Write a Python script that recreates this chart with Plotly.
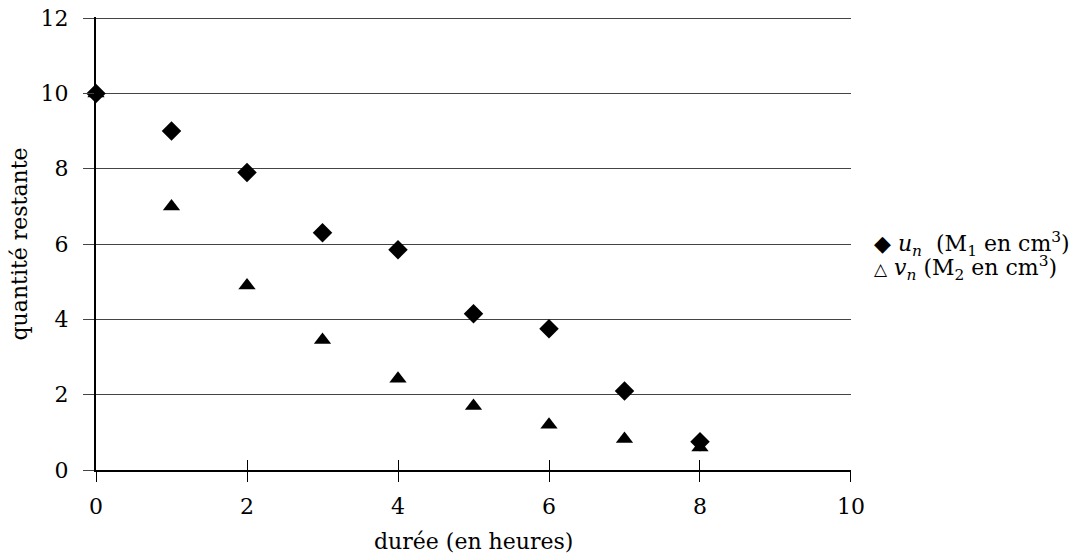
import plotly.graph_objects as go

heures = [0, 1, 2, 3, 4, 5, 6, 7, 8]
u_n = [10.0, 9.0, 7.9, 6.3, 5.85, 4.15, 3.75, 2.1, 0.75]
v_n = [10.0, 7.0, 4.9, 3.45, 2.42, 1.7, 1.2, 0.82, 0.6]
x_ticks = [0, 2, 4, 6, 8, 10]
y_ticks = [0, 2, 4, 6, 8, 10, 12]

FONT = "DejaVu Serif"
FS = 22

fig = go.Figure()
fig.add_trace(go.Scatter(x=heures, y=v_n, mode="markers", name="v_n",
                         marker=dict(symbol="triangle-up", size=15, color="black"),
                         cliponaxis=False))
fig.add_trace(go.Scatter(x=heures, y=u_n, mode="markers", name="u_n",
                         marker=dict(symbol="diamond", size=15, color="black"),
                         cliponaxis=False))
# invisible trace to show xaxis2 ticks
fig.add_trace(go.Scatter(x=[0], y=[0], xaxis="x2", mode="markers",
                         marker=dict(opacity=0), hoverinfo="skip"))

fig.update_layout(
    width=1070, height=546,
    margin=dict(l=88, r=227, t=9, b=84, autoexpand=False),
    paper_bgcolor="white", plot_bgcolor="white",
    showlegend=False,
    font=dict(family=FONT, size=FS, color="black"),
    xaxis=dict(range=[0, 10.0001], tickvals=x_ticks, showgrid=False, zeroline=False,
               showline=True, linecolor="black", linewidth=2,
               ticks="outside", ticklen=10, tickcolor="black", tickwidth=1,
               tickfont=dict(family=FONT, size=FS), ticklabelstandoff=6,
               ticklabeloverflow="allow"),
    xaxis2=dict(range=[0, 10.0001], tickvals=x_ticks, overlaying="x", side="bottom",
                showgrid=False, zeroline=False, showline=False,
                ticks="inside", ticklen=10, tickcolor="black", tickwidth=1,
                showticklabels=False, matches="x"),
    yaxis=dict(range=[0, 12.03], tickvals=y_ticks, showgrid=True, gridcolor="#444",
               gridwidth=1, zeroline=False, showline=True, linecolor="black",
               linewidth=2, ticks="outside", ticklen=11, tickcolor="#444",
               tickfont=dict(family=FONT, size=FS), ticklabelstandoff=10,
               ticklabeloverflow="allow"),
)

fig.add_annotation(xref="paper", yref="paper", x=-0.1007, y=0.5,
                   xanchor="center", yanchor="middle", showarrow=False,
                   textangle=-90, text="quantité restante",
                   font=dict(family=FONT, size=FS))
fig.add_annotation(xref="paper", yref="paper", x=0.5, y=-0.1615, yshift=2,
                   xanchor="center", yanchor="middle", showarrow=False,
                   text="durée (en heures)",
                   font=dict(family=FONT, size=FS))
fig.add_annotation(xref="paper", yref="paper", x=1.0278, y=0.4978,
                   xanchor="left", yanchor="middle", showarrow=False,
                   text="◆ <i>u<sub>n</sub></i>  (M<sub>1</sub> en cm<sup>3</sup>)",
                   font=dict(family=FONT, size=FS))
fig.add_annotation(xref="paper", yref="paper", x=1.0278, y=0.4469,
                   xanchor="left", yanchor="middle", showarrow=False,
                   text="<span style='font-size:17px'>△</span> <i>v<sub>n</sub></i> (M<sub>2</sub> en cm<sup>3</sup>)",
                   font=dict(family=FONT, size=FS))

fig.write_html("out.html")
